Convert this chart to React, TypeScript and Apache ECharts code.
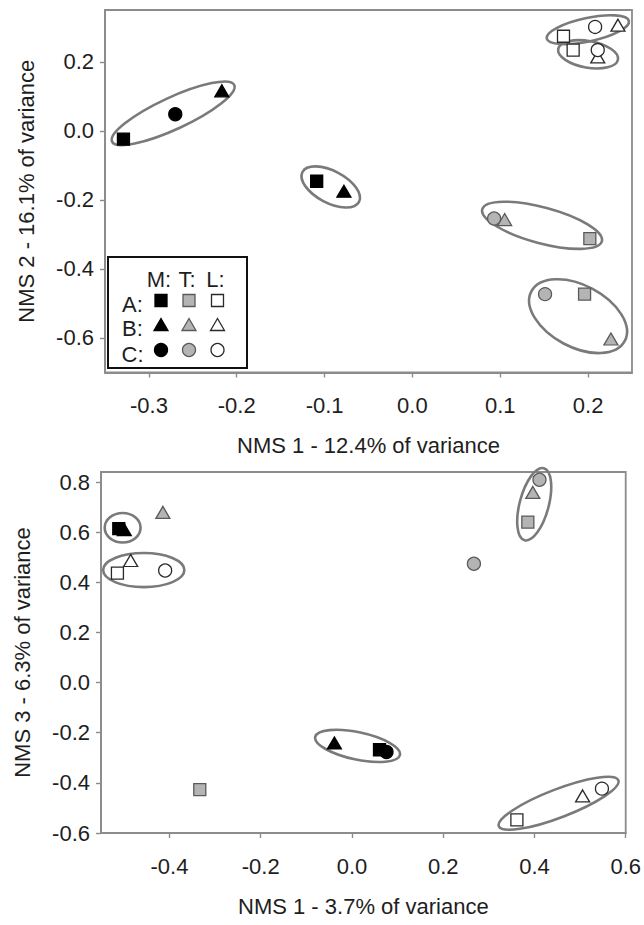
import React, { useEffect, useRef } from "react";
import * as echarts from "echarts";

// ---------- Panel 1: NMS 1 (x) vs NMS 2 (y) ----------
const p1_AM = [[-0.329, -0.024], [-0.109, -0.146]];
const p1_AT = [[0.202, -0.312], [0.196, -0.473]];
const p1_AL = [[0.172, 0.274], [0.183, 0.234]];
const p1_BM = [[-0.217, 0.116], [-0.078, -0.175]];
const p1_BT = [[0.105, -0.257], [0.226, -0.603]];
const p1_BL = [[0.234, 0.306], [0.211, 0.214]];
const p1_CM = [[-0.27, 0.048]];
const p1_CT = [[0.093, -0.254], [0.151, -0.473]];
const p1_CL = [[0.208, 0.301], [0.211, 0.234]];
// ellipses: [centreX, centreY, majorEndX, majorEndY, minor/major ratio]
const p1_ellipses = [
  [-0.2724, 0.0508, -0.2028, 0.1328, 0.237],
  [-0.093, -0.1625, -0.0608, -0.2058, 0.5],
  [0.1476, -0.2736, 0.2157, -0.3198, 0.29],
  [0.1886, -0.5368, 0.2418, -0.6087, 0.585],
  [0.1997, 0.2929, 0.2465, 0.3183, 0.28],
  [0.2, 0.2216, 0.234, 0.2063, 0.44],
];
const p1_xTicks = [-0.3, -0.2, -0.1, 0.0, 0.1, 0.2];
const p1_yTicks = [-0.6, -0.4, -0.2, 0.0, 0.2];
const p1_xName = "NMS 1 - 12.4% of variance";
const p1_yName = "NMS 2 - 16.1% of variance";

// ---------- Panel 2: NMS 1 (x) vs NMS 3 (y) ----------
const p2_AM = [[-0.511, 0.614], [0.0604, -0.268]];
const p2_AT = [[-0.3335, -0.427], [0.3855, 0.64]];
const p2_AL = [[-0.514, 0.437], [0.3615, -0.548]];
const p2_BM = [[-0.499, 0.61], [-0.0385, -0.241]];
const p2_BT = [[-0.4144, 0.679], [0.3964, 0.7585]];
const p2_BL = [[-0.485, 0.487], [0.5055, -0.452]];
const p2_CM = [[0.0757, -0.277]];
const p2_CT = [[0.2673, 0.474], [0.411, 0.809]];
const p2_CL = [[-0.4094, 0.447], [0.5479, -0.423]];
const p2_ellipses = [
  [-0.5026, 0.6176, -0.4633, 0.6176, 0.82],
  [-0.4563, 0.4487, -0.3673, 0.4487, 0.42],
  [0.3995, 0.7114, 0.4206, 0.855, 0.39],
  [0.0123, -0.2527, 0.1052, -0.2886, 0.315],
  [0.4529, -0.4814, 0.5839, -0.3896, 0.22],
];
const p2_xTicks = [-0.4, -0.2, 0.0, 0.2, 0.4, 0.6];
const p2_yTicks = [-0.6, -0.4, -0.2, 0.0, 0.2, 0.4, 0.6, 0.8];
const p2_xName = "NMS 1 - 3.7% of variance";
const p2_yName = "NMS 3 - 6.3% of variance";

// legend labels
const rowLabels = ["A:", "B:", "C:"];
const colLabels = ["M:", "T:", "L:"];

const FONT = "Liberation Sans, Arial, Helvetica, sans-serif";
const TXT = "#1e1e1e";
const FRAME = "#8c8c8c";
const ELL = "#7a7a7a";
const GRAY = "#b4b4b4";

const fills: Record<string, { fill: string; stroke: string }> = {
  M: { fill: "#000000", stroke: "#000000" },
  T: { fill: GRAY, stroke: "#5a5a5a" },
  L: { fill: "#ffffff", stroke: "#2a2a2a" },
};
const shapes: Record<string, { symbol: string; size: any }> = {
  A: { symbol: "rect", size: 12 },
  B: { symbol: "triangle", size: [14, 12] },
  C: { symbol: "circle", size: 13 },
};

function scatter(data: number[][], row: string, col: string, idx: number) {
  return {
    type: "scatter",
    xAxisIndex: idx,
    yAxisIndex: idx,
    data,
    symbol: shapes[row].symbol,
    symbolSize: shapes[row].size,
    itemStyle: { color: fills[col].fill, borderColor: fills[col].stroke, borderWidth: 1.3, opacity: 1 },
    z: row === "A" ? 3 : row === "B" ? 4 : 5,
    silent: true,
  };
}

function renderEllipse(_params: any, api: any) {
  const c = api.coord([api.value(0), api.value(1)]);
  const e = api.coord([api.value(2), api.value(3)]);
  const dx = e[0] - c[0];
  const dy = e[1] - c[1];
  const a = Math.hypot(dx, dy);
  const b = a * api.value(4);
  return {
    type: "ellipse",
    x: c[0],
    y: c[1],
    rotation: -Math.atan2(dy, dx),
    shape: { cx: 0, cy: 0, rx: a, ry: b },
    style: { fill: "none", stroke: ELL, lineWidth: 2.6 },
  };
}

function ellipseSeries(data: number[][], idx: number) {
  return {
    type: "custom",
    xAxisIndex: idx,
    yAxisIndex: idx,
    data,
    renderItem: renderEllipse,
    clip: false,
    silent: true,
    encode: { x: [0, 2], y: [1, 3] },
    z: 2,
  };
}

function xAxis(idx: number, min: number, max: number, ticks: number[], name: string) {
  return {
    type: "value",
    gridIndex: idx,
    min,
    max,
    name,
    nameLocation: "middle",
    nameGap: 62,
    nameTextStyle: { fontFamily: FONT, fontSize: 22, color: TXT },
    axisLine: { show: true, onZero: false, lineStyle: { color: FRAME, width: 1.8 } },
    axisTick: { show: true, inside: false, length: 5, customValues: ticks, lineStyle: { color: FRAME, width: 1.4 } },
    axisLabel: {
      customValues: ticks,
      margin: 22,
      fontFamily: FONT,
      fontSize: 22,
      color: TXT,
      formatter: (v: number) => v.toFixed(1),
    },
    splitLine: { show: false },
  };
}

function yAxis(idx: number, min: number, max: number, ticks: number[], name: string) {
  return {
    type: "value",
    gridIndex: idx,
    min,
    max,
    name,
    nameLocation: "middle",
    nameGap: 68,
    nameRotate: 90,
    nameTextStyle: { fontFamily: FONT, fontSize: 22, color: TXT },
    axisLine: { show: true, onZero: false, lineStyle: { color: FRAME, width: 1.8 } },
    axisTick: { show: true, inside: false, length: 5, customValues: ticks, lineStyle: { color: FRAME, width: 1.4 } },
    axisLabel: {
      customValues: ticks,
      margin: 11,
      fontFamily: FONT,
      fontSize: 22,
      color: TXT,
      formatter: (v: number) => v.toFixed(1),
    },
    splitLine: { show: false },
  };
}

function legendGraphics() {
  const els: any[] = [];
  const box = { x: 108, y: 257, w: 139, h: 111 };
  els.push({
    type: "rect",
    shape: { x: box.x, y: box.y, width: box.w, height: box.h },
    style: { fill: "#ffffff", stroke: "#111111", lineWidth: 2 },
    z: 100,
  });
  const colX = [161, 189, 217.5];
  const rowY = [300.5, 324.5, 350];
  colLabels.forEach((t, i) => {
    els.push({
      type: "text",
      x: colX[i] - 2,
      y: 279,
      style: { text: t, font: `22px ${FONT}`, fill: TXT, align: "center", verticalAlign: "middle" },
      z: 101,
    });
  });
  rowLabels.forEach((t, i) => {
    els.push({
      type: "text",
      x: 132.5,
      y: rowY[i] + 4,
      style: { text: t, font: `22px ${FONT}`, fill: TXT, align: "center", verticalAlign: "middle" },
      z: 101,
    });
  });
  const cols = ["M", "T", "L"];
  cols.forEach((c, i) => {
    const st = { fill: fills[c].fill, stroke: fills[c].stroke, lineWidth: 1.3 };
    const cx = colX[i];
    els.push({ type: "rect", shape: { x: cx - 6, y: rowY[0] - 6, width: 12, height: 12 }, style: st, z: 101 });
    els.push({
      type: "polygon",
      shape: { points: [[cx, rowY[1] - 6], [cx + 7, rowY[1] + 6], [cx - 7, rowY[1] + 6]] },
      style: st,
      z: 101,
    });
    els.push({ type: "circle", shape: { cx, cy: rowY[2], r: 6.5 }, style: st, z: 101 });
  });
  return els;
}

export default function App() {
  const ref = useRef<HTMLDivElement>(null);
  useEffect(() => {
    if (!ref.current) return;
    const chart = echarts.init(ref.current, null, { renderer: "svg" });
    chart.setOption({
      animation: false,
      backgroundColor: "#ffffff",
      grid: [
        { left: 105, top: 10, width: 527, height: 362.5, show: true, borderColor: FRAME, borderWidth: 1.8, backgroundColor: "transparent" },
        { left: 101, top: 472, width: 526, height: 361, show: true, borderColor: FRAME, borderWidth: 1.8, backgroundColor: "transparent" },
      ],
      xAxis: [
        xAxis(0, -0.35, 0.25, p1_xTicks, p1_xName),
        xAxis(1, -0.55, 0.6, p2_xTicks, p2_xName),
      ],
      yAxis: [
        yAxis(0, -0.7, 0.35, p1_yTicks, p1_yName),
        yAxis(1, -0.6, 0.84, p2_yTicks, p2_yName),
      ],
      series: [
        ellipseSeries(p1_ellipses, 0),
        scatter(p1_AM, "A", "M", 0),
        scatter(p1_AT, "A", "T", 0),
        scatter(p1_AL, "A", "L", 0),
        scatter(p1_BM, "B", "M", 0),
        scatter(p1_BT, "B", "T", 0),
        scatter(p1_BL, "B", "L", 0),
        scatter(p1_CM, "C", "M", 0),
        scatter(p1_CT, "C", "T", 0),
        scatter(p1_CL, "C", "L", 0),
        ellipseSeries(p2_ellipses, 1),
        scatter(p2_AM, "A", "M", 1),
        scatter(p2_AT, "A", "T", 1),
        scatter(p2_AL, "A", "L", 1),
        scatter(p2_BM, "B", "M", 1),
        scatter(p2_BT, "B", "T", 1),
        scatter(p2_BL, "B", "L", 1),
        scatter(p2_CM, "C", "M", 1),
        scatter(p2_CT, "C", "T", 1),
        scatter(p2_CL, "C", "L", 1),
      ],
      graphic: legendGraphics(),
    });
    return () => chart.dispose();
  }, []);
  return (
    <div
      ref={ref}
      style={{ position: "fixed", left: 0, top: 0, width: 644, height: 925, background: "#fff" }}
    />
  );
}
